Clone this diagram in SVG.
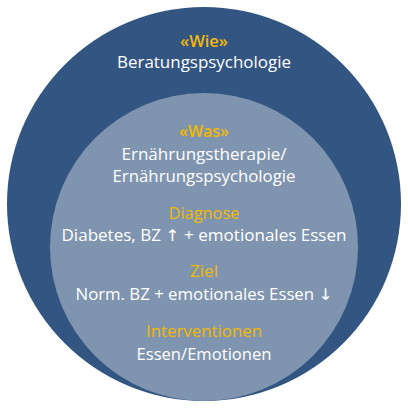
<svg xmlns="http://www.w3.org/2000/svg" width="408" height="408" viewBox="0 0 408 408">
<style>
.t{font-family:"Open Sans","Liberation Sans",sans-serif;font-size:16px;text-anchor:middle}
.h{fill:#f4b800}
.b{font-weight:600}
.w{fill:#ffffff}
.a{font-family:"DejaVu Sans",sans-serif}
</style>
<rect width="408" height="408" fill="#ffffff"/>
<g id="outer">
<circle cx="204" cy="204" r="197" fill="#335582"/>
<text class="t h b" x="204" y="47" textLength="48" lengthAdjust="spacingAndGlyphs">«Wie»</text>
<text class="t w" x="204" y="68" textLength="174" lengthAdjust="spacingAndGlyphs">Beratungspsychologie</text>
</g>
<g id="inner">
<circle cx="204" cy="247" r="154" fill="#7f95af"/>
<text class="t h b" x="204" y="137" textLength="50" lengthAdjust="spacingAndGlyphs">«Was»</text>
<text class="t w" x="204" y="160" textLength="165" lengthAdjust="spacingAndGlyphs">Ernährungstherapie/</text>
<text class="t w" x="204" y="182" textLength="183" lengthAdjust="spacingAndGlyphs">Ernährungspsychologie</text>
<text class="t h" x="204" y="219" textLength="71" lengthAdjust="spacingAndGlyphs">Diagnose</text>
<text class="t w" x="204" y="241" textLength="285" lengthAdjust="spacingAndGlyphs">Diabetes, BZ <tspan class="a">↑</tspan> + emotionales Essen</text>
<text class="t h" x="204" y="277" textLength="28" lengthAdjust="spacingAndGlyphs">Ziel</text>
<text class="t w" x="204" y="300" textLength="257" lengthAdjust="spacingAndGlyphs">Norm. BZ + emotionales Essen <tspan class="a">↓</tspan></text>
<text class="t h" x="204" y="337" textLength="116" lengthAdjust="spacingAndGlyphs">Interventionen</text>
<text class="t w" x="204" y="360" textLength="135" lengthAdjust="spacingAndGlyphs">Essen/Emotionen</text>
</g>
<g id="connectors"/>
</svg>
